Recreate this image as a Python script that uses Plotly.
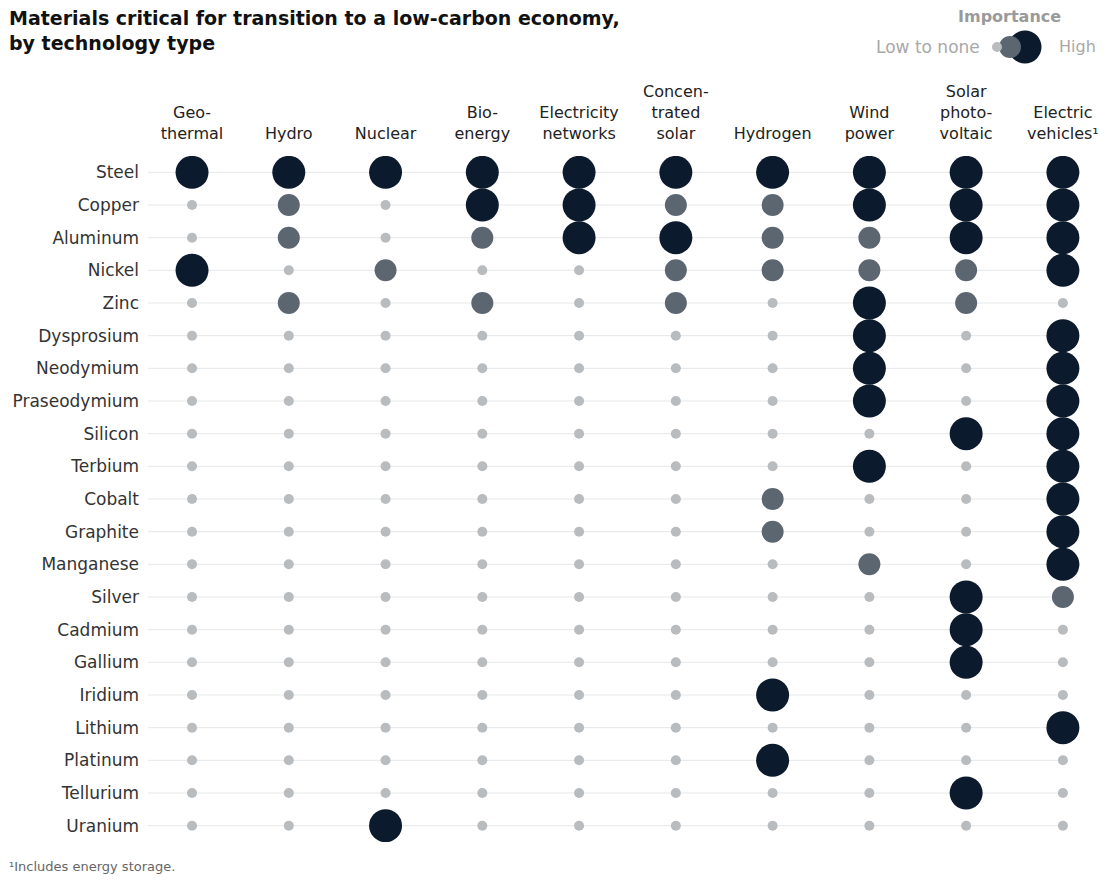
import plotly.graph_objects as go

technologies = ["Geothermal", "Hydro", "Nuclear", "Bioenergy", "Electricity networks",
                "Concentrated solar", "Hydrogen", "Wind power", "Solar photovoltaic", "Electric vehicles"]
tech_labels = ["Geo-<br>thermal", "Hydro", "Nuclear", "Bio-<br>energy", "Electricity<br>networks",
               "Concen-<br>trated<br>solar", "Hydrogen", "Wind<br>power", "Solar<br>photo-<br>voltaic",
               "Electric<br>vehicles¹"]
materials = ["Steel", "Copper", "Aluminum", "Nickel", "Zinc", "Dysprosium", "Neodymium",
             "Praseodymium", "Silicon", "Terbium", "Cobalt", "Graphite", "Manganese", "Silver",
             "Cadmium", "Gallium", "Iridium", "Lithium", "Platinum", "Tellurium", "Uranium"]
# importance: 0 = low to none, 1 = medium, 2 = high
importance = [
    [2, 2, 2, 2, 2, 2, 2, 2, 2, 2],  # Steel
    [0, 1, 0, 2, 2, 1, 1, 2, 2, 2],  # Copper
    [0, 1, 0, 1, 2, 2, 1, 1, 2, 2],  # Aluminum
    [2, 0, 1, 0, 0, 1, 1, 1, 1, 2],  # Nickel
    [0, 1, 0, 1, 0, 1, 0, 2, 1, 0],  # Zinc
    [0, 0, 0, 0, 0, 0, 0, 2, 0, 2],  # Dysprosium
    [0, 0, 0, 0, 0, 0, 0, 2, 0, 2],  # Neodymium
    [0, 0, 0, 0, 0, 0, 0, 2, 0, 2],  # Praseodymium
    [0, 0, 0, 0, 0, 0, 0, 0, 2, 2],  # Silicon
    [0, 0, 0, 0, 0, 0, 0, 2, 0, 2],  # Terbium
    [0, 0, 0, 0, 0, 0, 1, 0, 0, 2],  # Cobalt
    [0, 0, 0, 0, 0, 0, 1, 0, 0, 2],  # Graphite
    [0, 0, 0, 0, 0, 0, 0, 1, 0, 2],  # Manganese
    [0, 0, 0, 0, 0, 0, 0, 0, 2, 1],  # Silver
    [0, 0, 0, 0, 0, 0, 0, 0, 2, 0],  # Cadmium
    [0, 0, 0, 0, 0, 0, 0, 0, 2, 0],  # Gallium
    [0, 0, 0, 0, 0, 0, 2, 0, 0, 0],  # Iridium
    [0, 0, 0, 0, 0, 0, 0, 0, 0, 2],  # Lithium
    [0, 0, 0, 0, 0, 0, 2, 0, 0, 0],  # Platinum
    [0, 0, 0, 0, 0, 0, 0, 0, 2, 0],  # Tellurium
    [0, 0, 2, 0, 0, 0, 0, 0, 0, 0],  # Uranium
]
level_names = ["Low to none", "Medium", "High"]

# styles
level_sizes = [10, 22, 33]
level_colors = ["#b9bcbf", "#5b6670", "#0b1a2c"]
FONT = "DejaVu Sans"

OFF = 8  # page body margin
W, H = 1107 - 2 * OFF, 882 - 2 * OFF
ML, MR, MT, MB = 140, 9, 148, 32
PW, PH = W - ML - MR, H - MT - MB
XR = [-0.455, 9.28]


def px2x(px):
    return (px - OFF - ML) / PW


def py2y(py):
    return (H - MB - (py - OFF)) / PH


fig = go.Figure()

# row lines
for m in materials:
    fig.add_shape(type="line", xref="x", yref="y", x0=XR[0], x1=len(technologies) - 1,
                  y0=m, y1=m, line=dict(color="#e6e7e8", width=1), layer="below")

for lvl in range(3):
    xs, ys = [], []
    for i, m in enumerate(materials):
        for j, t in enumerate(technologies):
            if importance[i][j] == lvl:
                xs.append(t)
                ys.append(m)
    fig.add_trace(go.Scatter(
        x=xs, y=ys, mode="markers", name=level_names[lvl],
        marker=dict(size=level_sizes[lvl], color=level_colors[lvl],
                    line=dict(width=0)),
        hovertemplate="%{y} – %{x}<extra>" + level_names[lvl] + "</extra>",
        showlegend=False,
    ))

fig.update_xaxes(type="category", categoryorder="array", categoryarray=technologies,
                 range=XR, side="top", tickmode="array", tickvals=technologies,
                 ticktext=tech_labels, showgrid=False, zeroline=False, showline=False,
                 ticks="", ticklabelstandoff=13, automargin=False,
                 tickfont=dict(family=FONT, size=16, color="#222222"))
fig.update_yaxes(type="category", categoryorder="array", categoryarray=materials,
                 range=[len(materials) - 0.5, -0.5], showgrid=False, zeroline=False,
                 showline=False, ticks="", ticklabelstandoff=8, automargin=False,
                 tickfont=dict(family=FONT, size=17, color="#333333"))

# title
fig.add_annotation(xref="paper", yref="paper", x=px2x(7), y=py2y(5), xanchor="left",
                   yanchor="top", align="left", showarrow=False,
                   text="<b>Materials critical for transition to a low-carbon economy,<br>by technology type</b>",
                   font=dict(family=FONT, size=19, color="#111111"))

# legend
fig.add_annotation(xref="paper", yref="paper", x=px2x(1009), y=py2y(16), xanchor="center",
                   yanchor="middle", showarrow=False, text="<b>Importance</b>",
                   font=dict(family=FONT, size=16, color="#9a9a9a"))
fig.add_annotation(xref="paper", yref="paper", x=px2x(982), y=py2y(47), xanchor="right",
                   yanchor="middle", showarrow=False, text="Low to none",
                   font=dict(family=FONT, size=17, color="#a8a8a8"))
fig.add_annotation(xref="paper", yref="paper", x=px2x(1057), y=py2y(47), xanchor="left",
                   yanchor="middle", showarrow=False, text="High",
                   font=dict(family=FONT, size=16, color="#a8a8a8"))
for cx, lvl in [(1025, 2), (1010, 1), (997, 0)]:
    r = level_sizes[lvl] / 2
    fig.add_shape(type="circle", xref="paper", yref="paper", xsizemode="pixel",
                  ysizemode="pixel", xanchor=px2x(cx), yanchor=py2y(47),
                  x0=-r, x1=r, y0=-r, y1=r, fillcolor=level_colors[lvl],
                  line=dict(width=0))

# footnote
fig.add_annotation(xref="paper", yref="paper", x=px2x(7), y=py2y(866), xanchor="left",
                   yanchor="middle", showarrow=False, text="¹Includes energy storage.",
                   font=dict(family=FONT, size=13, color="#666666"))

fig.update_layout(width=W, height=H, margin=dict(l=ML, r=MR, t=MT, b=MB, autoexpand=False),
                  plot_bgcolor="white", paper_bgcolor="white", showlegend=False)

fig.write_html("out.html")
